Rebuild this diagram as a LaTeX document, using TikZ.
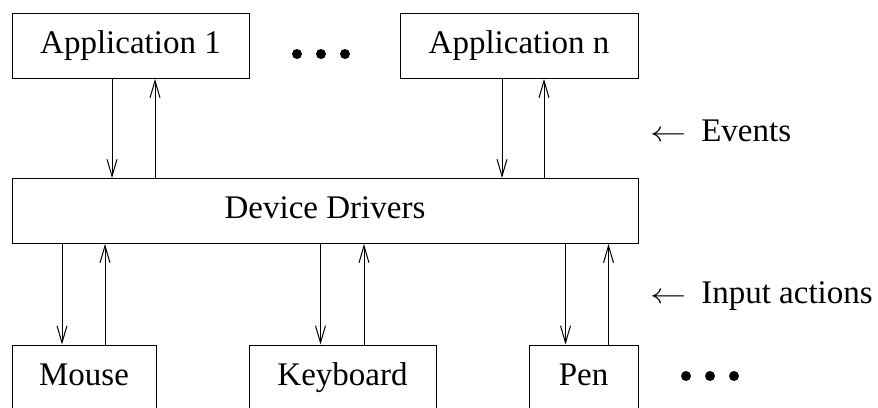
\documentclass[tikz,border=0pt]{standalone}
\usepackage{fontspec}
\setmainfont{Liberation Serif}
\usetikzlibrary{arrows.meta}

\tikzset{
    block/.style={draw, line width=1pt, minimum height=65, inner sep=0pt,
        text height=22pt, text depth=7pt,
        font=\fontsize{33}{38}\selectfont},
    flow/.style={line width=1pt, -{Straight Barb[length=17pt,width=10pt]}},
    legend/.style={anchor=west, inner sep=0pt, font=\fontsize{33}{38}\selectfont}
}
\newcommand{\legarrow}{\scalebox{1.45}[1.15]{$\leftarrow$}}

\begin{document}
\begin{tikzpicture}[x=1pt, y=-1pt]
        \clip (0,0) rectangle (878,407);

        % applications on top
        \node[block, minimum width=237] (app1) at (130.5,46) {Application 1};
        \node[block, minimum width=238] (appn) at (519,46) {Application n};
        \foreach \x in {297,321,345} {
                \fill (\x,54) circle (5pt);
            }

        % driver layer
        \node[block, minimum width=626] (drivers) at (325,211) {Device Drivers};

        % devices at the bottom
        \node[block, minimum width=144] (mouse) at (84,377.5) {Mouse};
        \node[block, minimum width=187] (keyboard) at (342.5,377.5) {Keyboard};
        \node[block, minimum width=109] (pen) at (583.5,377.5) {Pen};
        \foreach \x in {686,710,734} {
                \fill (\x,376) circle (5pt);
            }

        % events go down, replies go up
        \foreach \n/\d/\u in {app1/-18.5/24.5, appn/-17/25} {
                \draw[flow] ([xshift=\d]\n.south) -- ([xshift=\d]\n.south |- drivers.north);
                \draw[flow] ([xshift=\u]\n.south |- drivers.north) -- ([xshift=\u]\n.south);
            }
        \foreach \n/\d/\u in {mouse/-22/21, keyboard/-22/21.5, pen/-18/25} {
                \draw[flow] ([xshift=\d]\n.north |- drivers.south) -- ([xshift=\d]\n.north);
                \draw[flow] ([xshift=\u]\n.north) -- ([xshift=\u]\n.north |- drivers.south);
            }

        \node[legend] (events) at (650,131) {\legarrow\hspace{15pt}Events};
        \node[legend] (actions) at (650,296) {\legarrow\hspace{15pt}Input actions};
    \end{tikzpicture}
\end{document}
